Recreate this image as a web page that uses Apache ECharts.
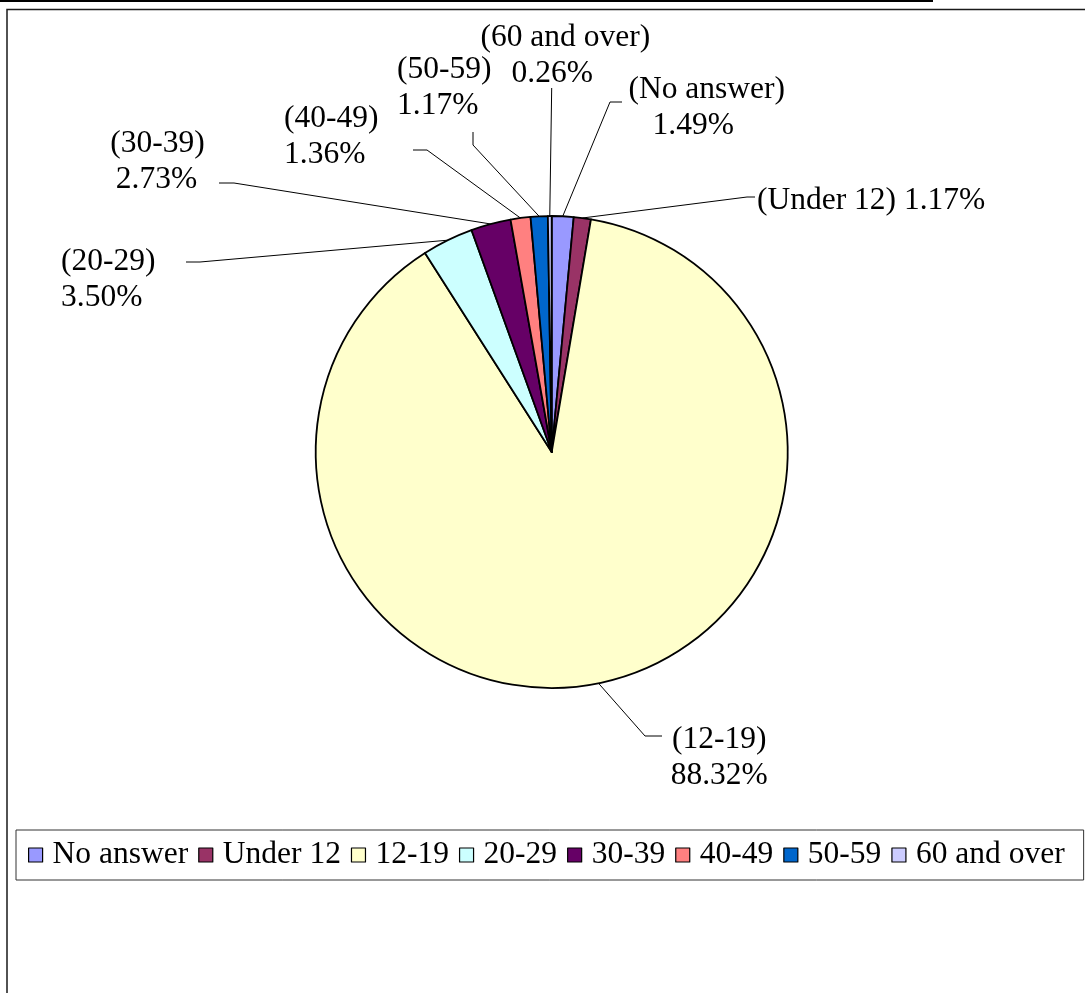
<!DOCTYPE html>
<html>
<head>
<meta charset="utf-8">
<script src="https://cdn.jsdelivr.net/npm/echarts@6/dist/echarts.min.js"></script>
<style>
html,body{margin:0;padding:0;background:#fff;}
#chart{width:1085px;height:993px;}
</style>
</head>
<body>
<div id="chart"></div>
<script>
const categories = ['No answer', 'Under 12', '12-19', '20-29', '30-39', '40-49', '50-59', '60 and over'];
const values = [1.49, 1.17, 88.32, 3.50, 2.73, 1.36, 1.17, 0.26];
const colors = ['#9999FF', '#993366', '#FFFFCC', '#CCFFFF', '#660066', '#FF8080', '#0066CC', '#CCCCFF'];

const FONT = 'Liberation Serif, Times New Roman, serif';
const FS = 31.5;

// label layout (positions of label blocks and leader-line elbows)
const labelPos = [
  {x: 706.7, y: 107.5, align: 'center', shift: 27, elbow: [610, 102], end: [622, 102]},
  {x: 757, y: 201, align: 'left', shift: 0, single: true, elbow: [747, 197], end: [755, 197]},
  {x: 719.3, y: 758, align: 'center', shift: 0, elbow: [645, 736], end: [662, 736]},
  {x: 61, y: 279.5, align: 'left', shift: 0, elbow: [200, 262], end: [186, 262]},
  {x: 157.5, y: 161.5, align: 'center', shift: 2, elbow: [234, 183], end: [219, 183]},
  {x: 284, y: 136.5, align: 'left', shift: 0, elbow: [427, 150], end: [413, 150]},
  {x: 397, y: 87.5, align: 'left', shift: 0, elbow: [473, 145], end: [473, 132]},
  {x: 565.3, y: 55.5, align: 'center', shift: 26, elbow: [551.7, 88], end: [551.7, 88]}
];

const chart = echarts.init(document.getElementById('chart'), null, {renderer: 'canvas'});

const option = {
  animation: false,
  backgroundColor: '#fff',
  color: colors,
  legend: {
    orient: 'horizontal',
    left: 16,
    top: 830,
    width: 1200,
    padding: [7, 19, 7, 12],
    borderColor: '#333',
    borderWidth: 1,
    itemGap: 10,
    itemWidth: 14,
    itemHeight: 14,
    icon: 'rect',
    itemStyle: {borderColor: '#000', borderWidth: 1.2},
    textStyle: {fontFamily: FONT, fontSize: FS, color: '#000', lineHeight: 36, padding: [0, 0, 0, 5]},
    data: categories,
    selectedMode: false
  },
  series: [{
    type: 'pie',
    center: [551.7, 452],
    radius: 236,
    startAngle: 90,
    clockwise: true,
    avoidLabelOverlap: false,
    silent: true,
    itemStyle: {borderColor: '#000', borderWidth: 1.8},
    emphasis: {disabled: true},
    labelLine: {show: false},
    label: {
      show: true,
      position: 'outside',
      color: '#000',
      fontFamily: FONT,
      fontSize: FS,
      lineHeight: 36,
      formatter: function (p) {
        const lp = labelPos[p.dataIndex];
        const pct = values[p.dataIndex].toFixed(2) + '%';
        if (lp.single) return '{a|(' + p.name + ') ' + pct + '}';
        return '{a|(' + p.name + ')}\n{b' + p.dataIndex + '|' + pct + '}';
      },
      rich: (function () {
        const r = {a: {fontFamily: FONT, fontSize: FS, lineHeight: 36, color: '#000'}};
        labelPos.forEach(function (lp, i) {
          r['b' + i] = {fontFamily: FONT, fontSize: FS, lineHeight: 36, color: '#000', padding: [0, lp.shift, 0, 0]};
        });
        return r;
      })()
    },
    labelLayout: function (params) {
      const lp = labelPos[params.dataIndex];
      return {x: lp.x, y: lp.y, align: lp.align, verticalAlign: 'middle'};
    },
    data: categories.map(function (c, i) { return {name: c, value: values[i]}; })
  }]
};

chart.setOption(option);

// leader lines from each slice's mid-angle edge point (taken from the pie's own layout)
const data = chart.getModel().getSeriesByIndex(0).getData();
const elements = [
  {type: 'line', shape: {x1: 0, y1: 1, x2: 933, y2: 1}, style: {stroke: '#000', lineWidth: 2}, silent: true},
  {type: 'rect', shape: {x: 7, y: 9.5, width: 1200, height: 1200}, style: {fill: null, stroke: '#1a1a1a', lineWidth: 1.5}, silent: true}
];
for (let i = 0; i < categories.length; i++) {
  const L = data.getItemLayout(i);
  const m = (L.startAngle + L.endAngle) / 2;
  const a = [L.cx + L.r * Math.cos(m), L.cy + L.r * Math.sin(m)];
  const lp = labelPos[i];
  elements.push({
    type: 'polyline',
    shape: {points: [a, lp.elbow, lp.end]},
    style: {stroke: '#000', lineWidth: 1, fill: null},
    silent: true,
    z: 10
  });
}
chart.setOption({graphic: {elements: elements}});
</script>
</body>
</html>
